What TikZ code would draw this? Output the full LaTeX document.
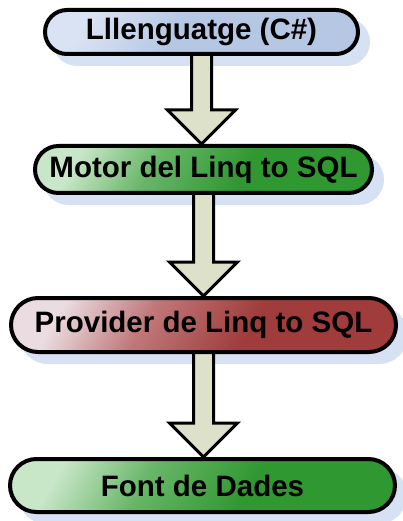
\documentclass[tikz,border=0pt]{standalone}
\usepackage{fontspec}
\setmainfont{Liberation Sans}
\usetikzlibrary{calc}
\pgfdeclarelayer{shadowlayer}
\pgfdeclarelayer{arrowlayer}
\pgfsetlayers{shadowlayer,arrowlayer,main}
\definecolor{blueL}{RGB}{218,227,243}
\definecolor{blueD}{RGB}{182,199,228}
\definecolor{greenL}{RGB}{200,230,200}
\definecolor{greenM}{RGB}{105,182,105}
\definecolor{greenD}{RGB}{48,152,48}
\definecolor{redL}{RGB}{234,220,224}
\definecolor{redM}{RGB}{192,120,122}
\definecolor{redD}{RGB}{160,60,60}
\definecolor{arrowfill}{RGB}{221,225,201}
\definecolor{shadowfill}{RGB}{214,225,243}
\pgfdeclarehorizontalshading{blueshade}{100bp}{color(0bp)=(blueL); color(25bp)=(blueL); color(45bp)=(blueD); color(100bp)=(blueD)}
\pgfdeclarehorizontalshading{greenshade}{100bp}{color(0bp)=(greenL); color(25bp)=(greenL); color(40bp)=(greenM); color(58bp)=(greenD); color(100bp)=(greenD)}
\pgfdeclarehorizontalshading{redshade}{100bp}{color(0bp)=(redL); color(25bp)=(redL); color(40bp)=(redM); color(58bp)=(redD); color(100bp)=(redD)}
\tikzset{
  stagebox/.style={draw=black, line width=4pt, inner sep=0pt, text=black,
    font=\bfseries\fontsize{29.5}{32}\selectfont},
  bluebox/.style={stagebox, shading=blueshade, shading angle=-30},
  greenbox/.style={stagebox, shading=greenshade, shading angle=-30},
  redbox/.style={stagebox, shading=redshade, shading angle=-30},
  flowarrow/.style={fill=arrowfill, draw=black, line width=3pt, line join=miter},
  shadowshape/.style={fill=shadowfill}
}
\begin{document}
\begin{tikzpicture}[x=1pt,y=-1pt]
\useasboundingbox (0,0) rectangle (403,521);

\node[bluebox, minimum width=313pt, minimum height=44pt, rounded corners=22pt] (b1) at (201.5,32) {Lllenguatge (C\#)};
\node[greenbox, minimum width=337pt, minimum height=47pt, rounded corners=23.5pt] (b2) at (203.5,169.5) {Motor del Linq to SQL};
\node[redbox, minimum width=385pt, minimum height=54pt, rounded corners=27pt] (b3) at (203.5,325) {Provider de Linq to SQL};
\node[greenbox, minimum width=385pt, minimum height=53pt, rounded corners=26.5pt] (b4) at (202.5,485.5) {Font de Dades};

\begin{pgfonlayer}{shadowlayer}
  \foreach \n/\r in {b1/24, b2/25.5, b3/29, b4/28.5}{
    \fill[shadowshape, rounded corners=\r pt] ($(\n.north west)+(10,10)$) rectangle ($(\n.south east)+(10,10)$);
  }
\end{pgfonlayer}

\begin{pgfonlayer}{arrowlayer}
  \foreach \a/\b in {b1/b2, b2/b3, b3/b4}{
    \coordinate (s) at (\a.south);
    \coordinate (t) at (\a.south |- \b.north);
    \path[flowarrow] ($(s)+(-10,-6)$) -- ($(t)+(-10,-34)$) -- ($(t)+(-34,-34)$) -- (t)
      -- ($(t)+(34,-34)$) -- ($(t)+(10,-34)$) -- ($(s)+(10,-6)$);
  }
\end{pgfonlayer}
\end{tikzpicture}
\end{document}
